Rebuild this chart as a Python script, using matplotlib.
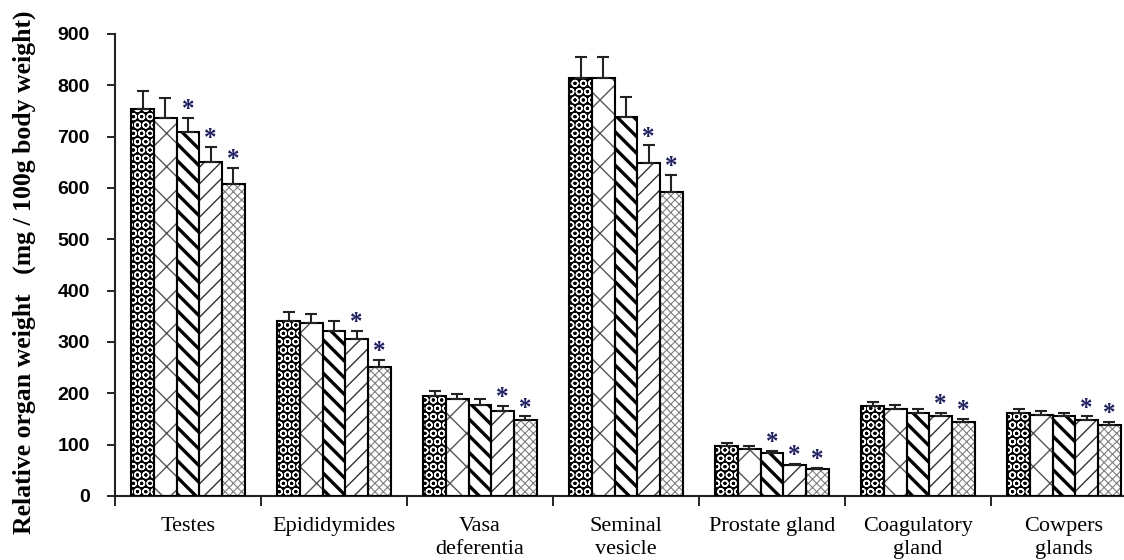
import numpy as np
import matplotlib
matplotlib.use("Agg")
import matplotlib.pyplot as plt

organs = ["Testes", "Epididymides", "Vasa\ndeferentia", "Seminal\nvesicle",
          "Prostate gland", "Coagulatory\ngland", "Cowpers\nglands"]

# mean relative organ weight for the five groups
g1 = [753, 341, 194, 815, 97, 175, 162]
g2 = [736, 337, 189, 815, 91, 169, 157]
g3 = [709, 322, 178, 739, 83, 161, 155]
g4 = [651, 306, 166, 648, 60, 155, 148]
g5 = [608, 251, 148, 593, 52, 144, 138]

# standard errors (upper bars only)
e1 = [36, 18, 11, 40, 6, 9, 8]
e2 = [40, 18, 10, 40, 6, 9, 9]
e3 = [28, 19, 11, 38, 5, 9, 7]
e4 = [29, 16, 10, 35, 3, 7, 7]
e5 = [31, 14, 7, 33, 3, 6, 7]

# significant difference vs control
s1 = [0, 0, 0, 0, 0, 0, 0]
s2 = [0, 0, 0, 0, 0, 0, 0]
s3 = [1, 0, 0, 0, 1, 0, 0]
s4 = [1, 1, 1, 1, 1, 1, 1]
s5 = [1, 1, 1, 1, 1, 1, 1]

means = [g1, g2, g3, g4, g5]
errs = [e1, e2, e3, e4, e5]
sigs = [s1, s2, s3, s4, s5]

# fill, hatch, hatch colour, hatch line width
styles = [
    ("black", "OO", "white", 1.0),
    ("white", "x", "#555555", 1.0),
    ("white", "\\\\", "black", 2.4),
    ("white", "//", "#333333", 1.0),
    ("white", "xxxx", "#808080", 0.8),
]

fig = plt.figure(figsize=(11.24, 5.6), dpi=100)
ax = fig.add_axes([115 / 1124, 64 / 560, 1 - 115 / 1124, 462 / 560])

x = np.arange(len(organs))
w = 0.155

for j in range(5):
    xs = x + (j - 2) * w
    face, hatch, hcol, hlw = styles[j]
    with plt.rc_context({"hatch.linewidth": hlw}):
        ax.bar(xs, means[j], w, color=face, edgecolor=hcol, hatch=hatch, linewidth=0, zorder=2)
    ax.bar(xs, means[j], w, fill=False, edgecolor="black", linewidth=1.5, zorder=3)
    ax.errorbar(xs, means[j], yerr=[np.zeros(len(organs)), errs[j]], fmt="none",
                ecolor="#222222", elinewidth=1.5, capsize=4, capthick=1.5, zorder=4)
    for k in range(len(organs)):
        if sigs[j][k]:
            ax.annotate("*", (xs[k], means[j][k] + errs[j][k]), xytext=(0, 6),
                        textcoords="offset points", ha="center", va="center",
                        fontsize=18, fontweight="bold", color="#202060",
                        family="Liberation Serif", zorder=5)

ax.set_xlim(-0.5, (1124 - 115) / 146 - 0.5)
ax.set_ylim(0, 900)
ax.set_yticks(range(0, 901, 100))
ax.set_yticklabels([str(v) for v in range(0, 901, 100)], family="Liberation Sans",
                   fontweight="bold", fontsize=14)
ax.set_xticks(np.arange(-0.5, 6.0, 1.0))
ax.set_xticklabels([])
ax.set_xticks(x, minor=True)
ax.set_xticklabels(organs, minor=True, family="Liberation Serif", fontsize=16,
                   linespacing=1.3)
ax.tick_params(axis="x", which="minor", length=0, pad=15)
ax.tick_params(axis="x", which="major", length=7, width=1.2, direction="out")
ax.tick_params(axis="y", length=6, width=1.2, direction="out", pad=12)

for side in ["top", "right"]:
    ax.spines[side].set_visible(False)
for side in ["left", "bottom"]:
    ax.spines[side].set_linewidth(1.5)
    ax.spines[side].set_color("#222222")

fig.text(0.022, 0.513, "Relative organ weight   (mg / 100g body weight)", rotation=90,
         ha="center", va="center", family="Liberation Serif", fontweight="bold",
         fontsize=18.5)

fig.savefig("out.png", dpi=100)
